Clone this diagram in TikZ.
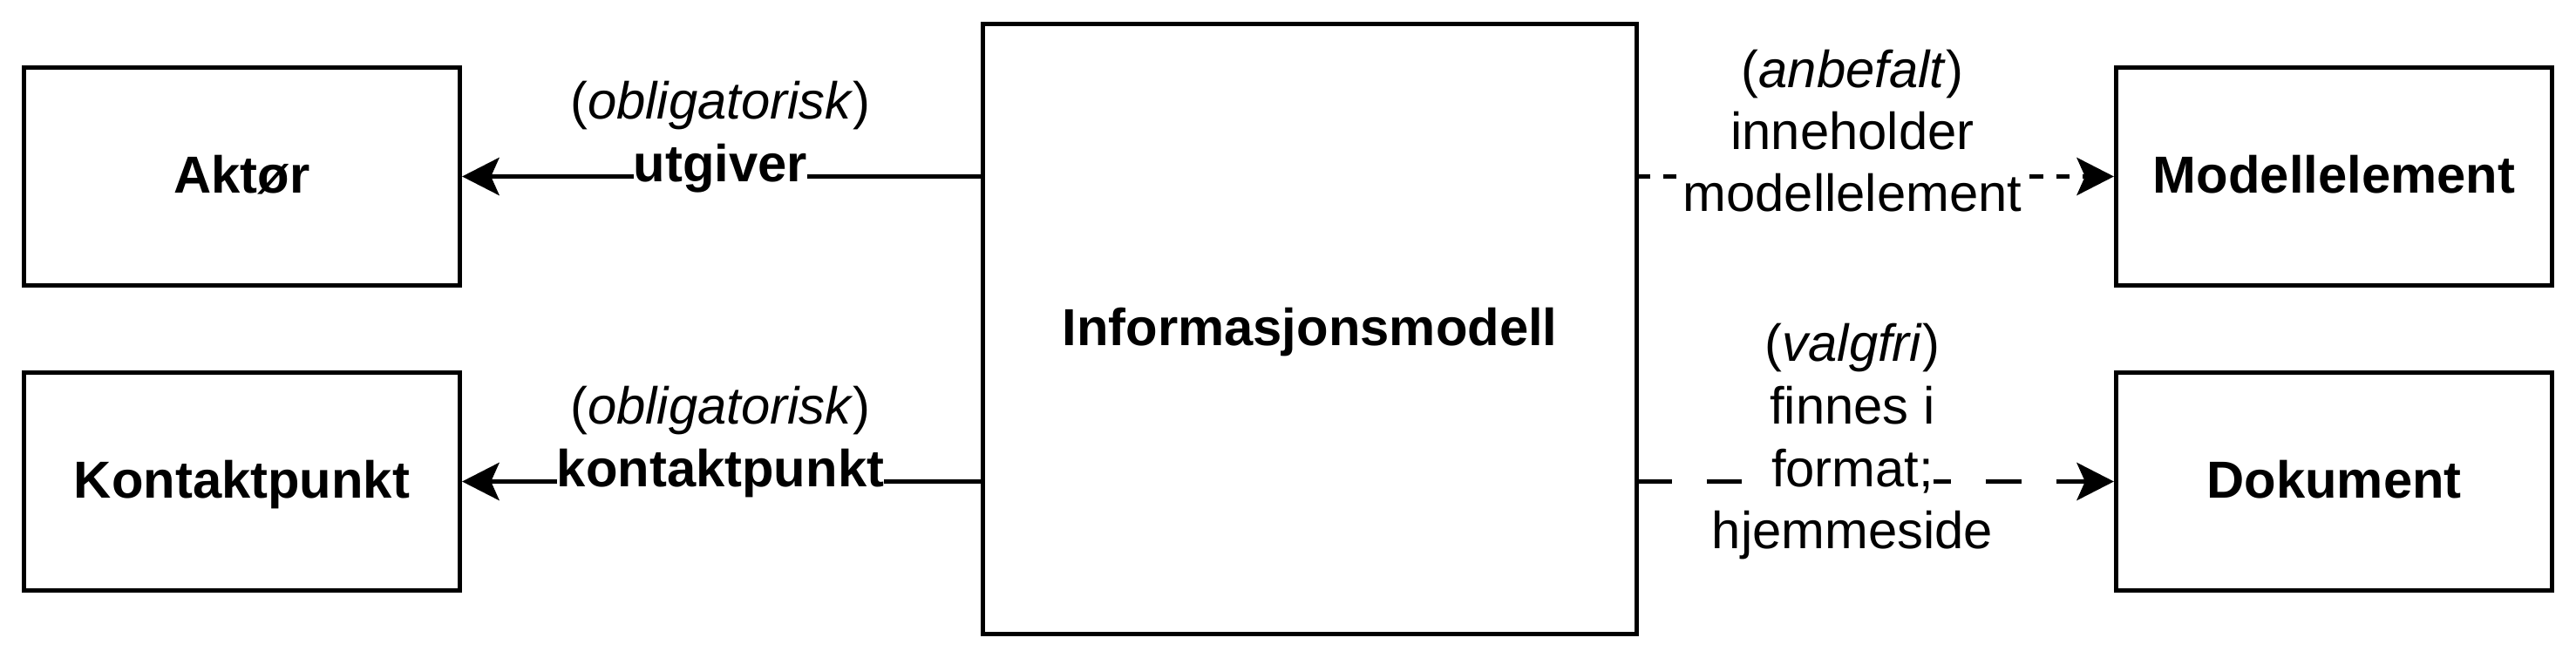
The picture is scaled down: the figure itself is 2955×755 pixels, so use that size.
\documentclass[tikz,border=0pt]{standalone}
\usepackage{fontspec}
\setmainfont{Liberation Sans}
\usetikzlibrary{arrows.meta}
\newcommand\lblfont{\fontsize{17pt}{20.4pt}\selectfont}
\begin{document}
\begin{tikzpicture}[x=0.01cm, y=-0.01cm,
  box/.style={draw, line width=0.05cm, inner sep=0pt,
    minimum width=5cm, minimum height=2.5cm,
    text height=13.5pt, text depth=2.7pt, font=\lblfont\bfseries},
  conn/.style={line width=0.05cm,
    -{Stealth[length=12.2pt, width=12.5pt, inset=2.8pt, line width=0pt]}},
  shortdash/.style={dash pattern=on 0.15cm off 0.15cm, dash phase=0.02cm},
  longdash/.style={dash pattern=on 0.4cm off 0.4cm, dash phase=0.02cm},
  lbl/.style={fill=white, inner sep=0pt, text height=15.4pt, text depth=3.6pt,
    anchor=base, font=\lblfont},
  lblb/.style={lbl, font=\lblfont\bfseries}]
\useasboundingbox (0,0) rectangle (2955,755);

\node[box] (aktor) at (277.5,202.5) {Aktør};
\node[box] (kontakt) at (277.5,552.5) {Kontaktpunkt};
\node[box, minimum width=7.5cm, minimum height=7cm] (info) at (1502.5,377.5) {Informasjonsmodell};
\node[box] (modell) at (2677.5,202.5) {Modellelement};
\node[box] (dok) at (2677.5,552.5) {Dokument};

\draw[conn] (info.west |- aktor) -- (aktor.east);
\draw[conn] (info.west |- kontakt) -- (kontakt.east);
\draw[conn, shortdash] (info.east |- modell) -- (modell.west);
\draw[conn, longdash] (info.east |- dok) -- (dok.west);

\node[lbl] (l1a) at (826.5,136.4) {(\textit{obligatorisk})};
\node[lblb] (l1b) at (826.5,208.1) {utgiver};
\node[lbl] (l2a) at (826.5,486.4) {(\textit{obligatorisk})};
\node[lblb] (l2b) at (826.5,558.1) {kontaktpunkt};

\node[lbl] (r1a) at (2125,100.5) {(\textit{anbefalt})};
\node[lbl] (r1b) at (2125,171.5) {inneholder};
\node[lbl] (r1c) at (2125,243) {modellelement};

\node[lbl] (r2a) at (2125,415) {(\textit{valgfri})};
\node[lbl] (r2b) at (2125,486) {finnes i};
\node[lbl] (r2c) at (2125,558) {format;};
\node[lbl] (r2d) at (2125,629.5) {hjemmeside};
\end{tikzpicture}
\end{document}
